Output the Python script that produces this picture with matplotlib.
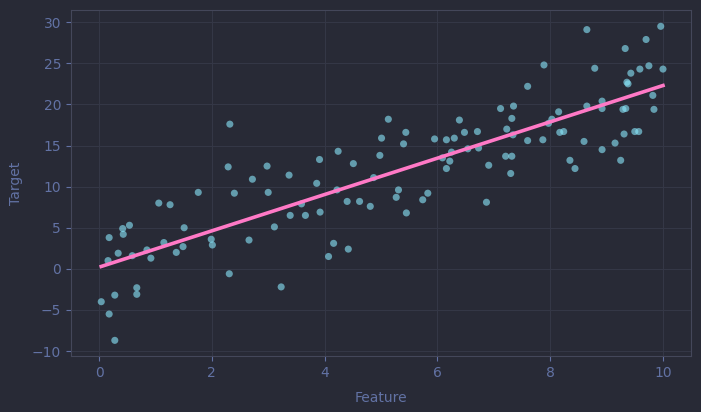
import numpy as np
import matplotlib
matplotlib.use("Agg")
import matplotlib.pyplot as plt

# points
feature = [0.04, 0.16, 0.18, 0.18, 0.28, 0.28, 0.34, 0.42, 0.43, 0.54, 0.59, 0.67, 0.67,
           0.85, 0.92, 1.06, 1.15, 1.26, 1.37, 1.49, 1.51, 1.76, 1.99, 2.01, 2.29, 2.32,
           2.31, 2.40, 2.66, 2.72, 2.98, 3.00, 3.11, 3.23, 3.37, 3.39, 3.59, 3.66, 3.86,
           3.91, 3.92, 4.07, 4.16, 4.22, 4.24, 4.40, 4.42, 4.51, 4.62, 4.81, 4.87, 4.98,
           5.01, 5.13, 5.27, 5.31, 5.40, 5.44, 5.45, 5.74, 5.83, 5.95, 6.09, 6.16, 6.16,
           6.22, 6.25, 6.30, 6.39, 6.48, 6.54, 6.71, 6.73, 6.87, 6.91, 7.12, 7.23, 7.21,
           7.30, 7.32, 7.32, 7.35, 7.34, 7.60, 7.60, 7.87, 7.89, 7.97, 8.03, 8.15, 8.17,
           8.24, 8.35, 8.44, 8.60, 8.65, 8.65, 8.79, 8.92, 8.92, 8.92, 9.15, 9.25, 9.29,
           9.31, 9.33, 9.34, 9.36, 9.38, 9.43, 9.50, 9.57, 9.59, 9.70, 9.75, 9.82, 9.84,
           9.96, 10.00]
target = [-4.0, 1.0, 3.8, -5.5, -3.2, -8.7, 1.9, 4.9, 4.2, 5.3, 1.6, -2.3, -3.1,
          2.3, 1.3, 8.0, 3.2, 7.8, 2.0, 2.7, 5.0, 9.3, 3.6, 2.9, 12.4, 17.6,
          -0.6, 9.2, 3.5, 10.9, 12.5, 9.3, 5.1, -2.2, 11.4, 6.5, 7.9, 6.5, 10.4,
          13.3, 6.9, 1.5, 3.1, 9.6, 14.3, 8.2, 2.4, 12.8, 8.2, 7.6, 11.1, 13.8,
          15.9, 18.2, 8.7, 9.6, 15.2, 16.6, 6.8, 8.4, 9.2, 15.8, 13.5, 15.7, 12.2,
          13.1, 14.2, 15.9, 18.1, 16.6, 14.6, 16.7, 14.7, 8.1, 12.6, 19.5, 17.0, 13.7,
          11.6, 13.7, 18.3, 19.8, 16.3, 22.2, 15.6, 15.7, 24.8, 17.7, 18.2, 19.1, 16.6,
          16.7, 13.2, 12.2, 15.5, 29.1, 19.8, 24.4, 14.5, 20.4, 19.5, 15.3, 13.2, 19.4,
          16.4, 26.8, 19.5, 22.7, 22.5, 23.8, 16.7, 16.7, 24.3, 27.9, 24.7, 21.1, 19.4,
          29.5, 24.3]

# fitted line
fit_intercept = 0.2
fit_slope = 2.21

bg = "#282a36"
muted = "#6272a4"

fig, ax = plt.subplots(figsize=(7.01, 4.12), dpi=100)
fig.patch.set_facecolor(bg)
ax.set_facecolor(bg)
fig.subplots_adjust(left=0.101, right=0.986, top=0.976, bottom=0.136)

ax.scatter(feature, target, s=26, color="#8be9fd", alpha=0.6, edgecolors="none", zorder=2)
xs = np.array([min(feature), max(feature)])
ax.plot(xs, fit_intercept + fit_slope * xs, color="#ff79c6", linewidth=2.6, zorder=3)

ax.set_xlim(-0.5, 10.5)
ax.set_ylim(-10.6, 31.5)
ax.set_xticks([0, 2, 4, 6, 8, 10])
ax.set_yticks([-10, -5, 0, 5, 10, 15, 20, 25, 30])
ax.grid(True, color="#343746", linewidth=0.8, zorder=0)
ax.set_axisbelow(True)

for sp in ax.spines.values():
    sp.set_color("#44475a")
ax.tick_params(colors=muted, labelsize=10)
ax.set_xlabel("Feature", color=muted, fontsize=10, labelpad=8)
ax.set_ylabel("Target", color=muted, fontsize=10, labelpad=6)

fig.savefig("out.png", facecolor=bg)
